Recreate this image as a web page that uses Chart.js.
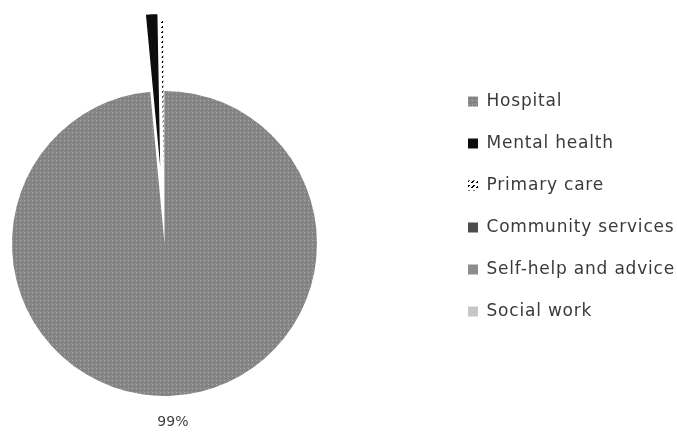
<!DOCTYPE html>
<html>
<head>
<meta charset="utf-8">
<script src="https://cdn.jsdelivr.net/npm/chart.js@4.4.1/dist/chart.umd.min.js"></script>
<style>
    html, body { margin: 0; padding: 0; background: #fff; }
    #wrap { width: 677px; height: 436px; position: relative; }
</style>
</head>
<body>
<div id="wrap"><canvas id="myChart"></canvas></div>
<script>
// Data (share of spending, %)
const categories = ["Hospital", "Mental health", "Primary care", "Community services", "Self-help and advice", "Social work"];
const shares = [98.51, 1.2, 0.22, 0.03, 0.02, 0.02];
// how far each slice is pulled out of the pie (px)
const explodeBy = [0, 77, 73, 0, 0, 0];

const legendFont = { family: "DejaVu Sans", size: 17 };

// small fill patterns, like the printed b/w pie
function makePattern(size, base, paint) {
    const c = document.createElement("canvas");
    c.width = size;
    c.height = size;
    const g = c.getContext("2d");
    g.fillStyle = base;
    g.fillRect(0, 0, size, size);
    paint(g);
    return g.createPattern(c, "repeat");
}

const mainCtx = document.getElementById("myChart").getContext("2d");

const dotted = makePattern(4, "#878787", g => {
    g.fillStyle = "#aaaaaa";
    g.fillRect(0, 0, 1, 1);
    g.fillStyle = "#707070";
    g.fillRect(2, 2, 1, 1);
});

// white with short black diagonal dashes
const hatched = makePattern(5, "#ffffff", g => {
    g.fillStyle = "#000000";
    g.fillRect(3, 0, 2, 1);
    g.fillRect(2, 1, 2, 1);
    g.fillRect(1, 2, 2, 1);
});

const colors = [dotted, "#0d0d0d", hatched, "#4d4d4d", "#8c8c8c", "#c6c6c6"];

// where the round pie sits (left part of the picture)
const pieBox = { left: 12, top: 91, right: 317, bottom: 396 };

const pinPie = {
    id: "pinPie",
    beforeUpdate(chart) {
        chart.ctx.letterSpacing = "0.8px"; // the legend text is widely spaced
    },
    // keep the pie on the left, whatever room the legend leaves
    afterLayout(chart) {
        const a = chart.chartArea;
        a.left = pieBox.left;
        a.right = pieBox.right;
        a.top = pieBox.top;
        a.bottom = pieBox.bottom;
        a.width = pieBox.right - pieBox.left;
        a.height = pieBox.bottom - pieBox.top;
    },
    // pull the small slices straight out, Excel style (radius unchanged)
    afterDatasetUpdate(chart, args) {
        args.meta.data.forEach((arc, i) => {
            const d = explodeBy[i];
            if (!d) return;
            const mid = (arc.startAngle + arc.endAngle) / 2;
            arc.x += Math.cos(mid) * d;
            arc.y += Math.sin(mid) * d;
        });
    }
};

const pctLabels = {
    id: "pctLabels",
    afterDatasetsDraw(chart) {
        const ctx = chart.ctx;
        const meta = chart.getDatasetMeta(0);
        const total = shares.reduce((a, b) => a + b, 0);
        ctx.save();
        ctx.letterSpacing = "0px";
        ctx.font = '14px "DejaVu Sans"';
        ctx.fillStyle = "#404040";
        ctx.textAlign = "center";
        ctx.textBaseline = "middle";
        meta.data.forEach((arc, i) => {
            const pct = Math.round(shares[i] * 100 / total);
            if (pct < 5) return;
            const p = arc.getProps(["x", "y", "startAngle", "endAngle", "outerRadius"], true);
            const mid = (p.startAngle + p.endAngle) / 2;
            const r = p.outerRadius + 27;
            ctx.fillText(pct + "%", p.x + Math.cos(mid) * r, p.y + Math.sin(mid) * r);
        });
        ctx.restore();
    }
};

new Chart(mainCtx, {
    type: "pie",
    data: {
        labels: categories,
        datasets: [{
            data: shares,
            backgroundColor: colors,
            borderWidth: 0,
            hoverOffset: 0,
            clip: false,
            radius: (pieBox.right - pieBox.left) / 2
        }]
    },
    options: {
        responsive: true,
        maintainAspectRatio: false,
        animation: false,
        layout: {
            padding: { left: 0, top: 68, bottom: 17, right: 0 }
        },
        plugins: {
            tooltip: { enabled: false },
            legend: {
                position: "right",
                align: "start",
                maxWidth: 234,
                labels: {
                    boxWidth: 10,
                    boxHeight: 10,
                    padding: 25,
                    color: "#3a3a3a",
                    font: legendFont
                }
            }
        }
    },
    plugins: [pinPie, pctLabels]
});
</script>
</body>
</html>
